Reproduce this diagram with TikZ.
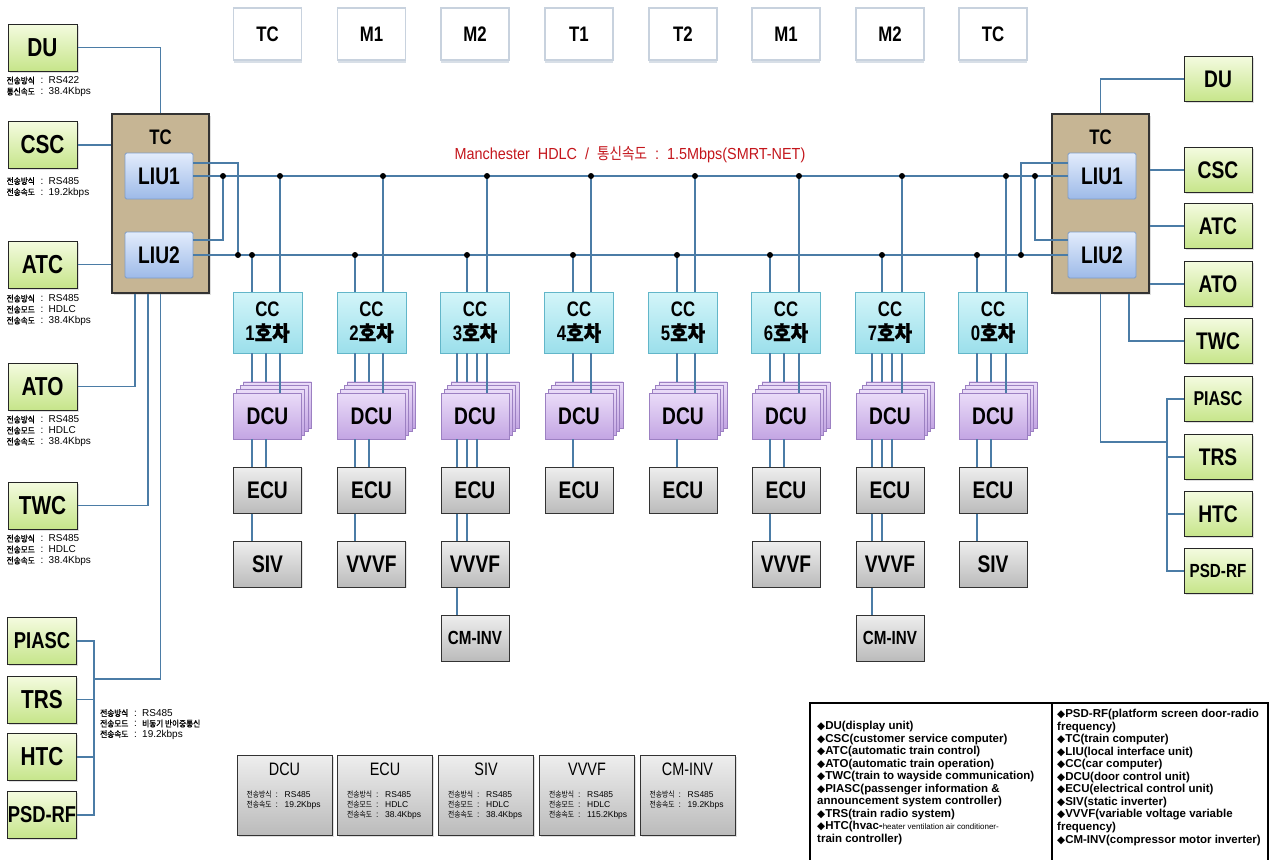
\documentclass[tikz,border=0pt]{standalone}
\usepackage{fontspec}
\setmainfont{Liberation Sans}
\newfontfamily\lab{Liberation Sans}[FakeStretch=0.8]
\newfontfamily\leg{Liberation Sans}[FakeStretch=0.9]
\newfontfamily\kr{Noto Sans CJK KR}[FakeStretch=0.85]
\newfontfamily\krb{Noto Sans CJK KR}[FakeStretch=0.9,FakeBold=1.2]
\newfontfamily\sym{DejaVu Sans}
\usetikzlibrary{shadows,calc}
\newcommand\mysz[1]{\fontsize{#1}{#1}\selectfont}
\newcommand\irow[2]{\makebox[34pt][l]{\krb\mysz{8.5}#1}\makebox[8pt][l]{\rmfamily\mysz{10}:}{\rmfamily\mysz{10}#2}}
\newcommand\brow[2]{\makebox[29pt][l]{\kr\mysz{8}#1}\makebox[9pt][l]{\rmfamily\mysz{8.5}:}{\rmfamily\mysz{8.5}#2}}
\newcommand\dmd{{\sym\mysz{10.5}◆}}
\definecolor{wirec}{HTML}{4B7CA6}
\definecolor{grnT}{HTML}{F4FBDF}
\definecolor{grnB}{HTML}{C6E58A}
\definecolor{tanc}{HTML}{C6B594}
\definecolor{liuT}{HTML}{E2ECFC}
\definecolor{liuB}{HTML}{9DBAE8}
\definecolor{liuD}{HTML}{7E9DC9}
\definecolor{ccT}{HTML}{D3F5F9}
\definecolor{ccB}{HTML}{9BDFEB}
\definecolor{ccD}{HTML}{62B6C9}
\definecolor{dcT}{HTML}{EADCF8}
\definecolor{dcB}{HTML}{C3A5E3}
\definecolor{dcD}{HTML}{9C80C2}
\definecolor{gyT}{HTML}{EEEEEE}
\definecolor{gyB}{HTML}{BBBBBB}
\definecolor{topD}{HTML}{C8D2DE}
\definecolor{hdrc}{HTML}{C4161C}
\tikzset{
 wire/.style={draw=wirec, line width=1.4pt},
 jdot/.style={fill=black},
 grn/.style={draw=black!85, line width=1pt, top color=grnT, bottom color=grnB, minimum width=69pt, minimum height=47pt, inner sep=0pt, font=\lab\bfseries\mysz{26}, drop shadow={opacity=0.25,shadow xshift=1.5pt,shadow yshift=-1.5pt}},
 rgrn/.style={grn, minimum width=68pt, minimum height=45pt, font=\lab\bfseries\mysz{24}},
 tcbox/.style={draw=black!80, line width=1.2pt, fill=tanc, minimum width=97pt, minimum height=179pt, inner sep=0pt, drop shadow={opacity=0.25,shadow xshift=1.5pt,shadow yshift=-1.5pt}},
 liu/.style={draw=liuD, line width=0.8pt, top color=liuT, bottom color=liuB, minimum width=68pt, minimum height=46pt, inner sep=0pt, rounded corners=1.5pt, font=\lab\bfseries\mysz{24}},
 topbox/.style={draw=topD, line width=1.5pt, fill=white, minimum width=68pt, minimum height=52pt, inner sep=0pt, font=\lab\bfseries\mysz{21}, drop shadow={fill=topD, opacity=0.7, shadow xshift=0pt, shadow yshift=-2.5pt}},
 ccbox/.style={draw=ccD, line width=0.8pt, top color=ccT, bottom color=ccB, minimum width=69pt, minimum height=61pt, inner sep=0pt, align=center, font=\lab\bfseries\fontsize{21}{24}\selectfont},
 dcubox/.style={draw=dcD, line width=0.8pt, top color=dcT, bottom color=dcB, minimum width=68pt, minimum height=46pt, inner sep=0pt, font=\lab\bfseries\mysz{24}},
 gbox/.style={draw=black!80, line width=1pt, top color=gyT, bottom color=gyB, minimum width=68pt, minimum height=46pt, inner sep=0pt, font=\lab\bfseries\mysz{24}, drop shadow={opacity=0.2,shadow xshift=1.2pt,shadow yshift=-1.2pt}},
 bbox/.style={draw=black!80, line width=1pt, top color=gyT, bottom color=gyB, minimum width=95pt, minimum height=80pt, inner sep=0pt, drop shadow={opacity=0.25,shadow xshift=1.5pt,shadow yshift=-1.5pt}},
 info/.style={anchor=north west, inner sep=0pt, align=left, font=\fontsize{8}{11}\selectfont},
}
\begin{document}
\begin{tikzpicture}[x=1pt,y=-1pt]
\useasboundingbox (0,0) rectangle (1270,860);
\fill[white] (0,0) rectangle (1270,860);

% top car type boxes
\foreach \cx/\t [count=\i] in {267.5/TC,371.5/M1,475/M2,579/T1,683/T2,786/M1,890/M2,993/TC}
  \node[topbox] (top\i) at (\cx,34) {\t};

% header
\node[font=\leg\mysz{16}, text=hdrc] (hdr) at (630,155) {Manchester\ \ HDLC\ \ /\ \ {\kr 통신속도}\ \ :\ \ 1.5Mbps(SMRT-NET)};

% left side
\node[tcbox] (tc) at (160.5,203.5) {};
\node[font=\lab\bfseries\mysz{21}] (tcl) at (160.5,137) {TC};
\node[liu] (liu1) at (159,176) {LIU1};
\node[liu] (liu2) at (159,255) {LIU2};
\node[grn] (du) at (42.5,47.5) {DU};
\node[grn] (csc) at (42.5,145) {CSC};
\node[grn] (atc) at (42.5,264.5) {ATC};
\node[grn] (ato) at (42.5,386.5) {ATO};
\node[grn] (twc) at (42.5,505.5) {TWC};
\node[grn, font=\lab\bfseries\mysz{23}] (piasc) at (42,641) {PIASC};
\node[grn] (trs) at (42,699.5) {TRS};
\node[grn] (htc) at (42,757) {HTC};
\node[grn, font=\lab\bfseries\mysz{23}] (psdrf) at (42,815) {PSD-RF};

\node[info] (idu) at ([xshift=-1pt,yshift=-5pt]du.south west) {\irow{전송방식}{RS422}\\\irow{통신속도}{38.4Kbps}};
\node[info] (icsc) at ([xshift=-1pt,yshift=-8pt]csc.south west) {\irow{전송방식}{RS485}\\\irow{전송속도}{19.2kbps}};
\node[info] (iatc) at ([xshift=-1pt,yshift=-6pt]atc.south west) {\irow{전송방식}{RS485}\\\irow{전송모드}{HDLC}\\\irow{전송속도}{38.4Kbps}};
\node[info] (iato) at ([xshift=-1pt,yshift=-5pt]ato.south west) {\irow{전송방식}{RS485}\\\irow{전송모드}{HDLC}\\\irow{전송속도}{38.4Kbps}};
\node[info] (itwc) at ([xshift=-1pt,yshift=-5pt]twc.south west) {\irow{전송방식}{RS485}\\\irow{전송모드}{HDLC}\\\irow{전송속도}{38.4Kbps}};
\node[info, font=\fontsize{8}{10.5}\selectfont] (ipiasc) at (100,709) {\irow{전송방식}{RS485}\\\irow{전송모드}{{\krb\mysz{8.5}비동기 반이중통신}}\\\irow{전송속도}{19.2kbps}};

\draw[wire] (du.east) -| (tc.north);
\draw[wire] (csc.east) -- (csc.east -| tc.west);
\draw[wire] (atc.east) -- (atc.east -| tc.west);
\draw[wire] (ato.east) -| ([xshift=-25.5pt]tc.south);
\draw[wire] (twc.east) -| ([xshift=-12.5pt]tc.south);
\coordinate (lpj) at (94,679);
\draw[wire] (tc.south) |- (lpj);
\draw[wire] (piasc.east) -- (piasc.east -| lpj) -- (psdrf.east -| lpj) -- (psdrf.east);
\draw[wire] (trs.east) -- (trs.east -| lpj);
\draw[wire] (htc.east) -- (htc.east -| lpj);

% right side
\node[tcbox] (rtc) at (1100.5,203.5) {};
\node[font=\lab\bfseries\mysz{21}] (rtcl) at (1100.5,137) {TC};
\node[liu] (rliu1) at (1102,176) {LIU1};
\node[liu] (rliu2) at (1102,255) {LIU2};
\node[rgrn] (rdu) at (1218,79) {DU};
\node[rgrn] (rcsc) at (1218,170) {CSC};
\node[rgrn] (ratc) at (1218,226) {ATC};
\node[rgrn] (rato) at (1218,284) {ATO};
\node[rgrn] (rtwc) at (1218,341) {TWC};
\node[rgrn, font=\lab\bfseries\mysz{20}] (rpiasc) at (1218,399) {PIASC};
\node[rgrn] (rtrs) at (1218,457) {TRS};
\node[rgrn] (rhtc) at (1218,514) {HTC};
\node[rgrn, font=\lab\bfseries\mysz{19}] (rpsdrf) at (1218,571) {PSD-RF};

\draw[wire] (rtc.north) |- (rdu.west);
\draw[wire] (rcsc.west) -- (rcsc.west -| rtc.east);
\draw[wire] (ratc.west) -- (ratc.west -| rtc.east);
\draw[wire] (rato.west) -- (rato.west -| rtc.east);
\draw[wire] ([xshift=28.5pt]rtc.south) |- (rtwc.west);
\coordinate (rpj) at (1167,442);
\draw[wire] (rtc.south) |- (rpj);
\draw[wire] (rpiasc.west) -- (rpiasc.west -| rpj) -- (rpsdrf.west -| rpj) -- (rpsdrf.west);
\draw[wire] (rtrs.west) -- (rtrs.west -| rpj);
\draw[wire] (rhtc.west) -- (rhtc.west -| rpj);

% cars
\foreach \cx/\lbl [count=\i] in {267.5/1,371.5/2,475/3,579/4,683/5,786/6,890/7,993/0} {
  \node[ccbox] (cc\i) at (\cx,322.5) {CC\\\lbl{\krb 호차}};
  \foreach \k in {3,2,1}
    \node[dcubox] (dcuR\i\k) at (\cx+3.3*\k,416-3.7*\k) {};
  \node[dcubox] (dcu\i) at (\cx,416) {DCU};
  \node[gbox] (ecu\i) at (\cx,490) {ECU};
}
\node[gbox] (nx1) at (267.5,564) {SIV};
\node[gbox] (nx2) at (371.5,564) {VVVF};
\node[gbox] (nx3) at (475,564) {VVVF};
\node[gbox] (nx6) at (786,564) {VVVF};
\node[gbox] (nx7) at (890,564) {VVVF};
\node[gbox] (nx8) at (993,564) {SIV};
\node[gbox, font=\lab\bfseries\mysz{19}] (cm3) at (475,638) {CM-INV};
\node[gbox, font=\lab\bfseries\mysz{19}] (cm7) at (890,638) {CM-INV};

% buses
\draw[wire] (liu1.east) -- (rliu1.west);
\draw[wire] (liu2.east) -- (rliu2.west);
\coordinate (lj1) at (223,176);
\coordinate (lj2) at (238,255);
\coordinate (rj1) at (1035,176);
\coordinate (rj2) at (1021,255);
\draw[wire] ([yshift=13pt]liu1.east) -| (lj2);
\draw[wire] (lj1) |- ([yshift=15pt]liu2.east);
\draw[wire] ([yshift=13pt]rliu1.west) -| (rj2);
\draw[wire] (rj1) |- ([yshift=15pt]rliu2.west);
\foreach \p in {lj1,lj2,rj1,rj2} \fill[jdot] (\p) circle (3);

\foreach \x/\i in {280/1,383/2,487/3,591/4,695/5,799/6,902/7,1006/8} {
  \coordinate (tj\i) at (\x,176);
  \draw[wire] (tj\i) -- (tj\i |- cc\i.north);
  \fill[jdot] (tj\i) circle (3);
  \draw[wire] (\x,0 |- cc\i.south) -- (\x,0 |- dcu\i.north);
}
\foreach \x/\i in {252/1,355/2,467/3,573/4,677/5,770/6,882/7,977/8} {
  \coordinate (bj\i) at (\x,255);
  \draw[wire] (bj\i) -- (bj\i |- cc\i.north);
  \fill[jdot] (bj\i) circle (3);
}
\foreach \x/\i in {252/1,266/1,355/2,369/2,457/3,467/3,477/3,573/4,677/5,770/6,784/6,872/7,882/7,892/7,977/8,991/8}
  \draw[wire] (\x,0 |- cc\i.south) -- (\x,0 |- dcuR\i3.north);
\foreach \x/\i in {252/1,266/1,355/2,369/2,457/3,467/3,477/3,573/4,677/5,770/6,784/6,872/7,882/7,892/7,977/8,991/8}
  \draw[wire] (\x,0 |- dcu\i.south) -- (\x,0 |- ecu\i.north);
\foreach \x/\i in {252/1,355/2,457/3,467/3,770/6,872/7,882/7,977/8}
  \draw[wire] (\x,0 |- ecu\i.south) -- (\x,0 |- nx\i.north);
\draw[wire] (457,0 |- nx3.south) -- (457,0 |- cm3.north);
\draw[wire] (872,0 |- nx7.south) -- (872,0 |- cm7.north);

% bottom spec boxes
\foreach \cx/\t [count=\i] in {284.5/DCU,385/ECU,486/SIV,587/VVVF,687.5/CM-INV} {
  \node[bbox] (bx\i) at (\cx,795) {};
  \node[font=\lab\mysz{18}] (bt\i) at ([yshift=-15pt]bx\i.north) {\t};
}
\node[info, font=\fontsize{8}{10}\selectfont] (bi1) at ([xshift=10pt,yshift=-36pt]bx1.north west) {\brow{전송방식}{RS485}\\\brow{전송속도}{19.2Kbps}};
\node[info, font=\fontsize{8}{10}\selectfont] (bi2) at ([xshift=10pt,yshift=-36pt]bx2.north west) {\brow{전송방식}{RS485}\\\brow{전송모드}{HDLC}\\\brow{전송속도}{38.4Kbps}};
\node[info, font=\fontsize{8}{10}\selectfont] (bi3) at ([xshift=10pt,yshift=-36pt]bx3.north west) {\brow{전송방식}{RS485}\\\brow{전송모드}{HDLC}\\\brow{전송속도}{38.4Kbps}};
\node[info, font=\fontsize{8}{10}\selectfont] (bi4) at ([xshift=10pt,yshift=-36pt]bx4.north west) {\brow{전송방식}{RS485}\\\brow{전송모드}{HDLC}\\\brow{전송속도}{115.2Kbps}};
\node[info, font=\fontsize{8}{10}\selectfont] (bi5) at ([xshift=10pt,yshift=-36pt]bx5.north west) {\brow{전송방식}{RS485}\\\brow{전송속도}{19.2Kbps}};

% legend
\draw[line width=1.3pt] (810,703) rectangle (1268,880);
\draw[line width=1.3pt] (1052,703) -- (1052,880);
\node[anchor=north west, inner sep=0pt, align=left, font=\bfseries\fontsize{11.5}{12.55}\selectfont] (legL) at (817,721) {%
\dmd DU(display unit)\\
\dmd CSC(customer service computer)\\
\dmd ATC(automatic train control)\\
\dmd ATO(automatic train operation)\\
\dmd TWC(train to wayside communication)\\
\dmd PIASC(passenger information \&\\
announcement system controller)\\
\dmd TRS(train radio system)\\
\dmd HTC(hvac-{\mdseries\fontsize{8}{12.55}\selectfont heater ventilation air conditioner-}\\
train controller)};
\node[anchor=north west, inner sep=0pt, align=left, font=\bfseries\fontsize{11.5}{12.55}\selectfont] (legR) at (1057,709) {%
\dmd PSD-RF(platform screen door-radio\\
frequency)\\
\dmd TC(train computer)\\
\dmd LIU(local interface unit)\\
\dmd CC(car computer)\\
\dmd DCU(door control unit)\\
\dmd ECU(electrical control unit)\\
\dmd SIV(static inverter)\\
\dmd VVVF(variable voltage variable\\
frequency)\\
\dmd CM-INV(compressor motor inverter)};
\end{tikzpicture}
\end{document}
